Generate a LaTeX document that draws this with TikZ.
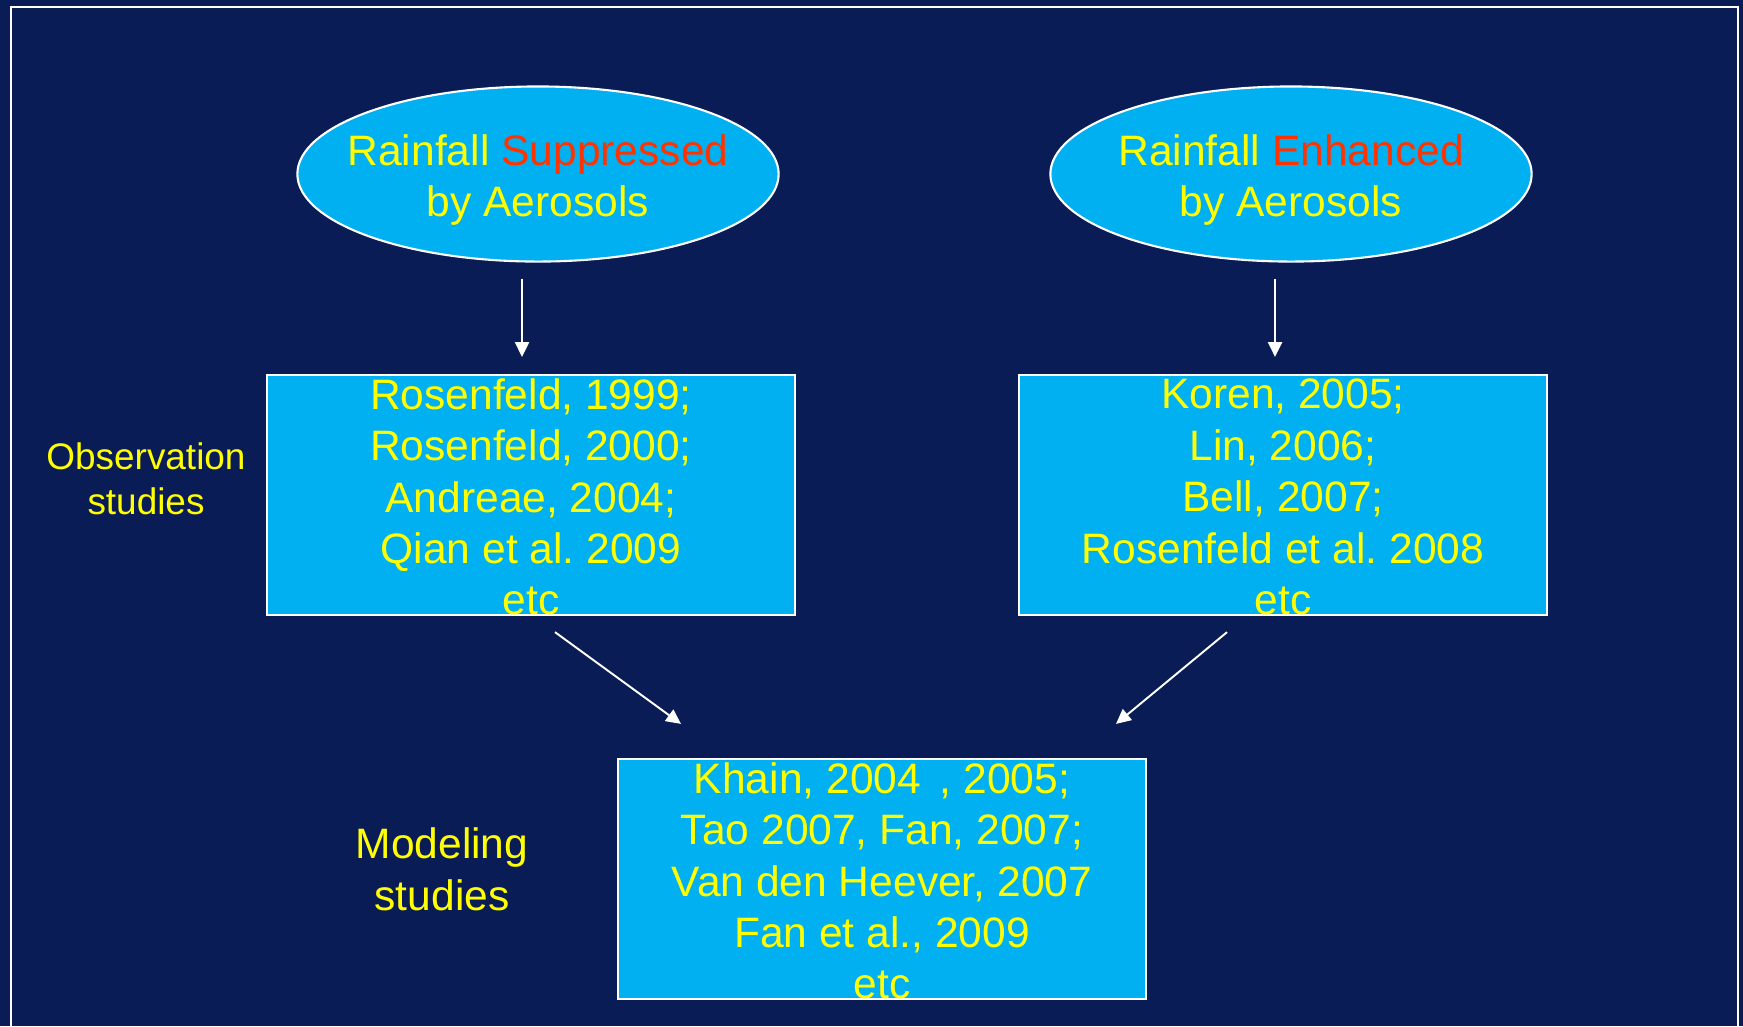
\documentclass[tikz,border=0pt]{standalone}
\usepackage{fontspec}
\setmainfont{Liberation Sans}
\usepackage{xcolor}
\usetikzlibrary{arrows.meta,positioning,shapes.geometric,calc}
\definecolor{slidebg}{HTML}{0A1C56}
\definecolor{boxfill}{HTML}{00B0F0}
\definecolor{txtyellow}{HTML}{FFFF00}
\definecolor{txtred}{HTML}{FF3300}

\begin{document}
\begin{tikzpicture}[
  x=0.01cm, y=-0.01cm,
  font=\fontsize{12.1pt}{14.6pt}\selectfont\frenchspacing,
  oval/.style={draw=white, ellipse, fill=boxfill, line width=0.6pt,
               minimum width=4.81cm, minimum height=1.75cm, inner sep=0pt},
  refbox/.style={draw=white, fill=boxfill, line width=0.6pt,
                 minimum width=5.28cm, minimum height=2.40cm, inner sep=0pt},
  txt/.style={text=txtyellow, align=center, inner sep=0pt},
  side/.style={text=txtyellow, align=center, inner sep=0pt},
  ar/.style={-{Triangle[length=4.2pt,width=4pt]}, draw=white, line width=0.55pt}
]
% --- slide background and frame ----------------------------------------
\fill[slidebg] (0,0) rectangle (1743,1026);
\clip (0,0) rectangle (1743,1026);
\draw[white, line width=0.6pt] (11,7) rectangle (1738,1040);

% --- the two hypotheses ------------------------------------------------
\node[oval] (supp) at (538,174) {};
\node[txt] at ($(supp)+(0,6)$) {Rainfall \textcolor{txtred}{Suppressed}\\ by Aerosols};
\node[oval] (enh) at (1291,174) {};
\node[txt] at ($(enh)+(0,6)$) {Rainfall \textcolor{txtred}{Enhanced}\\ by Aerosols};

% --- observation boxes -------------------------------------------------
\node[refbox] (obsA) at (531,495) {};
\node[txt] at ($(obsA)+(0,2)$) {Rosenfeld, 1999;\\ Rosenfeld, 2000;\\ Andreae, 2004;\\ Qian et al. 2009\\ etc};
\node[refbox] (obsB) at (1283,495) {};
\node[txt] at ($(obsB)+(0,2)$) {Koren, 2005;\\ Lin, 2006;\\ Bell, 2007;\\ Rosenfeld et al. 2008\\ etc};
\node[side, font=\fontsize{10.5pt}{12.7pt}\selectfont] (obslbl) at (146,479) {Observation\\ studies};

% --- modeling box ------------------------------------------------------
\node[refbox] (model) at (882,879) {};
\node[txt] at ($(model)+(0,2)$) {Khain, 2004~\,, 2005;\\ Tao 2007, Fan, 2007;\\ Van den Heever, 2007\\ Fan et al., 2009\\ etc};
\node[side, font=\fontsize{12.1pt}{14.8pt}\selectfont] (modlbl) at (442,869) {Modeling\\ studies};

% --- arrows ------------------------------------------------------------
\draw[ar] ($(supp.south)+(-16,16)$) -- ($(obsA.north)+(-9,-17)$);
\draw[ar] ($(enh.south)+(-16,16)$) -- ($(obsB.north)+(-8,-17)$);
\draw[ar] ($(obsA.south)+(24,16)$) -- ($(model.north)+(-201,-34)$);
\draw[ar] ($(obsB.south)+(-56,16)$) -- ($(model.north)+(234,-34)$);

\end{tikzpicture}
\end{document}
